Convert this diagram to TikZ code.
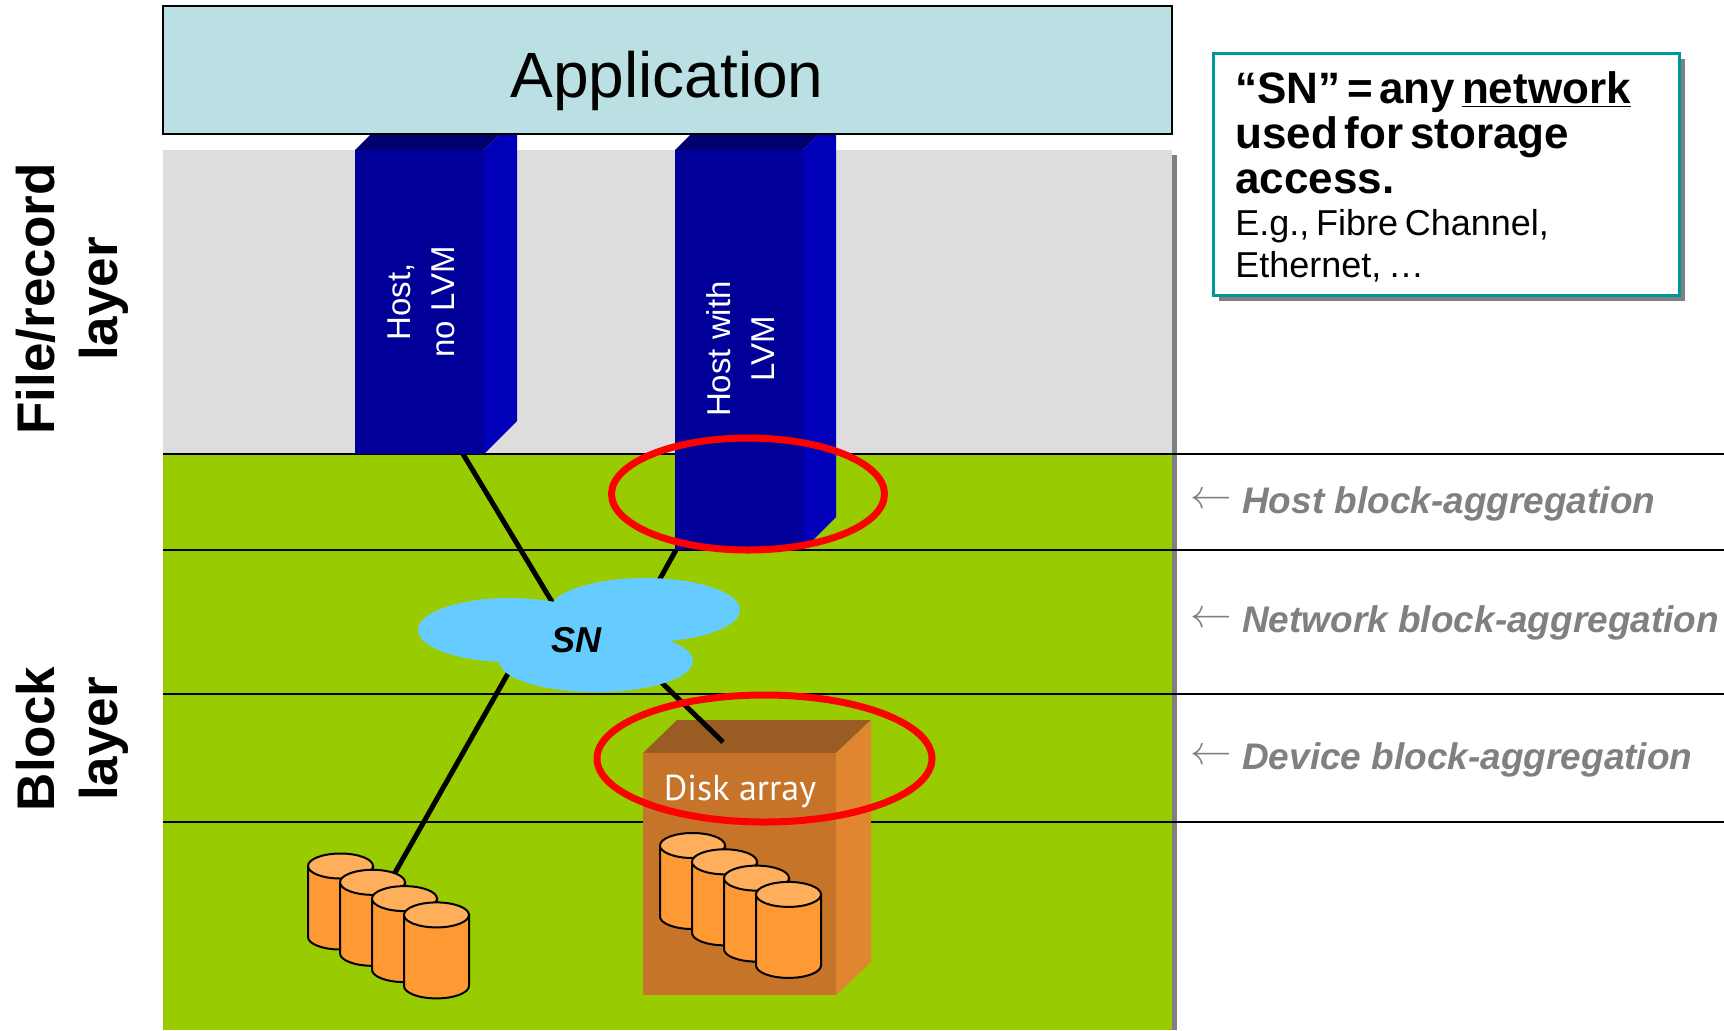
\documentclass[tikz,border=0pt]{standalone}
\usepackage{fontspec}
\setmainfont{Liberation Sans}
\newfontfamily\diskfont{PT Sans}
\usepackage{tikz}
\definecolor{appblue}{RGB}{187,224,227}
\definecolor{filegray}{RGB}{221,221,221}
\definecolor{blockgreen}{RGB}{153,204,0}
\definecolor{hostfront}{RGB}{0,0,153}
\definecolor{hosttop}{RGB}{0,0,112}
\definecolor{hostside}{RGB}{0,0,187}
\definecolor{snblue}{RGB}{102,204,255}
\definecolor{diskfront}{RGB}{198,116,42}
\definecolor{disktop}{RGB}{153,92,34}
\definecolor{diskside}{RGB}{224,134,48}
\definecolor{cylbody}{RGB}{255,153,51}
\definecolor{cyltop}{RGB}{255,174,92}
\definecolor{noteteal}{RGB}{0,153,153}
\definecolor{agggray}{RGB}{128,128,128}
\definecolor{shadowgray}{RGB}{128,128,128}

\begin{document}
\begin{tikzpicture}[x=0.5pt,y=-0.5pt,
  layer line/.style={line width=1pt},
  link/.style={line width=2.5pt},
  agg ring/.style={draw=red,line width=3.5pt},
  cylinder/.style={draw=black,line width=1pt},
  host text/.style={text=white,rotate=90,align=center,font=\fontsize{16.5}{22}\selectfont},
  layer label/.style={rotate=90,align=center,font=\fontsize{26.5}{31.5}\selectfont\bfseries},
  agg label/.style={text=agggray,anchor=base west,inner sep=0pt,font=\fontsize{18.5}{22}\selectfont\bfseries\itshape}]

  \useasboundingbox (0,0) rectangle (1724,1030);

  % layers
  \fill[filegray] (163,150) rectangle (1172,454);
  \fill[blockgreen] (163,454) rectangle (1172,1030);
  \fill[shadowgray] (1172,155) rectangle (1177,1030);
  \foreach \y in {454,550,694,822}
    \draw[layer line] (163,\y) -- (1724,\y);

  % link ends
  \coordinate (hostA foot) at (463,454);
  \coordinate (hostB foot) at (676,550);
  \coordinate (sn in1) at (569,630);
  \coordinate (sn in2) at (637,620);
  \coordinate (sn out1) at (527,640);
  \coordinate (sn out2) at (628,650);
  \coordinate (disks top) at (388,885);
  \coordinate (array top) at (723,742);

  \path[link] (hostA foot) edge (sn in1)
              (hostB foot) edge (sn in2)
              (sn out1) edge (disks top);

  % hosts
  \foreach \l/\r/\b in {355/484/454, 675/803/550} {
    \fill[hostside] (\r,150) -- ++(33,-33) -- (\r+33,\b-33) -- (\r,\b) -- cycle;
    \fill[hosttop] (\l,150) -- ++(33,-33) -- (\r+33,117) -- (\r,150) -- cycle;
    \fill[hostfront] (\l,150) rectangle (\r,\b);
  }
  \node[host text] (hostA) at (421,302) {Host,\\no LVM};
  \node[host text] (hostB) at (741,349) {Host with\\LVM};

  % application
  \draw[fill=appblue,line width=1pt] (163,6) rectangle (1172,134);
  \node[anchor=base,font=\fontsize{32}{38}\selectfont] (app) at (667,97) {Application};

  % disk array
  \fill[disktop] (643,753) -- (677,720) -- (871,720) -- (836,753) -- cycle;
  \fill[diskside] (836,753) -- (871,720) -- (871,962) -- (836,995) -- cycle;
  \fill[diskfront] (643,753) rectangle (836,995);
  \node[anchor=base,text=white,font=\diskfont\fontsize{18}{22}\selectfont] (array) at (740,800) {Disk array};
  \foreach \i in {0,...,3} {
    \filldraw[cylinder,fill=cylbody] ({660+32*\i},{845.5+16.3*\i}) -- ++(0,71)
      arc[start angle=180,end angle=0,x radius=32.5,y radius=12.5] -- ++(0,-71) -- cycle;
    \filldraw[cylinder,fill=cyltop] ({692.5+32*\i},{845.5+16.3*\i}) ellipse[x radius=32.5,y radius=12.5];
  }
  \path[link] (sn out2) edge (array top);

  % storage network
  \fill[snblue] (510,630) ellipse[x radius=92,y radius=32]
                (645,610) ellipse[x radius=95,y radius=32]
                (596,661) ellipse[x radius=97,y radius=31];
  \node[anchor=base,font=\fontsize{18}{22}\selectfont\bfseries\itshape] (sn) at (576,652) {SN};

  % loose disks
  \foreach \i in {0,...,3} {
    \filldraw[cylinder,fill=cylbody] ({308+32*\i},{866+16.3*\i}) -- ++(0,71)
      arc[start angle=180,end angle=0,x radius=32.5,y radius=12.5] -- ++(0,-71) -- cycle;
    \filldraw[cylinder,fill=cyltop] ({340.5+32*\i},{866+16.3*\i}) ellipse[x radius=32.5,y radius=12.5];
  }

  % aggregation points
  \draw[agg ring] (748,494) ellipse[x radius=136.5,y radius=56];
  \draw[agg ring] (764.5,758.5) ellipse[x radius=167.5,y radius=63.5];

  % layer names
  \node[layer label] (filelayer) at (72,299) {File/record\\layer};
  \node[layer label] (blocklayer) at (72,739) {Block\\layer};

  \node[agg label] (hostagg) at (1190,513) {\raisebox{2.5pt}{\fontsize{20}{20}\selectfont$\leftarrow$} Host block-aggregation};
  \node[agg label] (netagg) at (1190,632) {\raisebox{2.5pt}{\fontsize{20}{20}\selectfont$\leftarrow$} Network block-aggregation};
  \node[agg label] (devagg) at (1190,769) {\raisebox{2.5pt}{\fontsize{20}{20}\selectfont$\leftarrow$} Device block-aggregation};

  % note
  \fill[shadowgray] (1219,59) rectangle (1685,301);
  \draw[noteteal,fill=white,line width=1.5pt] (1213,53) rectangle (1679,295);
  \node[anchor=north west,text width=230pt,align=left,inner sep=0pt] (note) at (1235,71)
    {{\fontsize{22}{22.5}\selectfont\bfseries “SN” = any \underline{network}\\used for storage\\access.\par}
     {\fontsize{18}{21}\selectfont E.g., Fibre Channel,\\Ethernet, …\par}};
\end{tikzpicture}
\end{document}
